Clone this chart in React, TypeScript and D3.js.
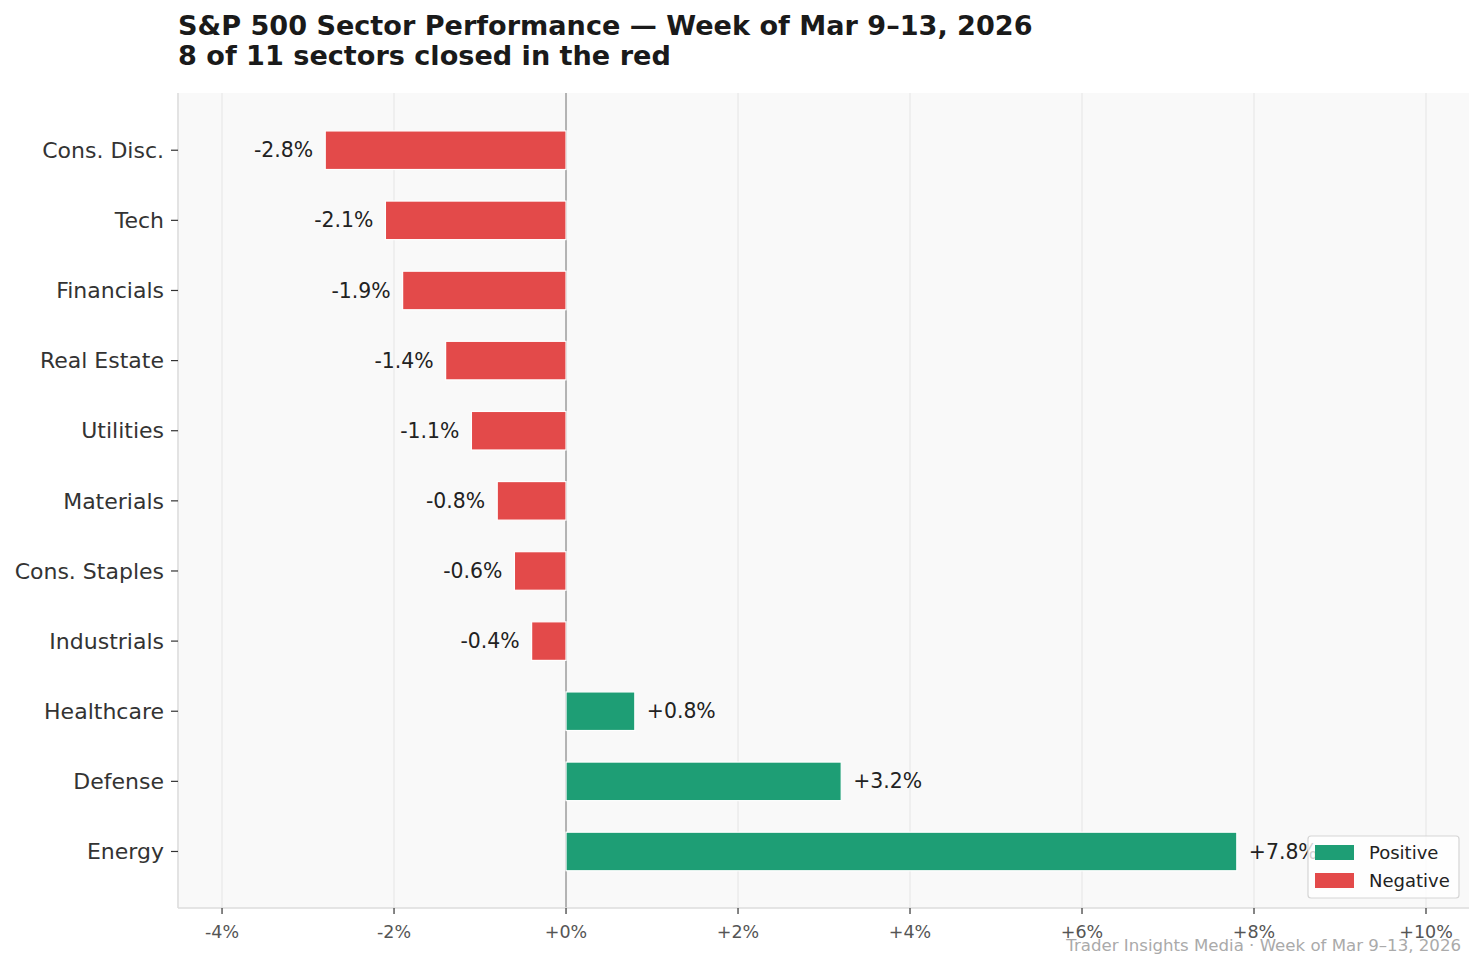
import React from "react";
import * as d3 from "d3";

const sectors = ["Cons. Disc.", "Tech", "Financials", "Real Estate", "Utilities", "Materials", "Cons. Staples", "Industrials", "Healthcare", "Defense", "Energy"];
const changes = [-2.8, -2.1, -1.9, -1.4, -1.1, -0.8, -0.6, -0.4, 0.8, 3.2, 7.8];
const xTicks = [-4, -2, 0, 2, 4, 6, 8, 10];
const legendItems = ["Positive", "Negative"];

const W = 1484;
const H = 969;
const L = 178, R = 1469, T = 93, B = 908;
const GREEN = "#1e9e75";
const RED = "#e34a4a";
const FONT = "DejaVu Sans, sans-serif";

const fmt = (v: number) => (v > 0 ? "+" : v < 0 ? "-" : "+") + Math.abs(v).toFixed(1) + "%";
const fmtTick = (v: number) => (v >= 0 ? "+" : "-") + Math.abs(v) + "%";

export default function App() {
  const x = d3.scaleLinear().domain([-4.512, 10.5]).range([L, R]);
  const y = d3.scaleLinear().domain([-0.816, 10.806]).range([T, B]);
  const step = y(1) - y(0);
  const bh = step * 0.55;

  return (
    <svg width={W} height={H} style={{ position: "absolute", left: 0, top: 0, background: "#fff" }} fontFamily={FONT}>
      <rect x={0} y={0} width={W} height={H} fill="#ffffff" />
      <text x={178} y={35} fontSize={27.1} fontWeight="bold" fill="#1a1a1a">S&amp;P 500 Sector Performance — Week of Mar 9–13, 2026</text>
      <text x={178} y={65} fontSize={27.1} fontWeight="bold" fill="#1a1a1a">8 of 11 sectors closed in the red</text>

      <rect x={L} y={T} width={R - L} height={B - T} fill="#f9f9f9" />
      {xTicks.map((t) => (
        <line key={"g" + t} x1={x(t)} x2={x(t)} y1={T} y2={B} stroke="#ebebeb" strokeWidth={1.4} />
      ))}
      <line x1={x(0)} x2={x(0)} y1={T} y2={B} stroke="#b3b3b3" strokeWidth={2} />

      {changes.map((v, i) => (
        <rect
          key={sectors[i]}
          x={x(Math.min(0, v))}
          y={y(i) - bh / 2}
          width={Math.abs(x(v) - x(0))}
          height={bh}
          fill={v >= 0 ? GREEN : RED}
          stroke="#ffffff"
          strokeWidth={1.2}
        />
      ))}
      {changes.map((v, i) => (
        <text
          key={"l" + sectors[i]}
          x={v >= 0 ? x(v + 0.14) : x(v - 0.14)}
          y={y(i)}
          dy="0.35em"
          textAnchor={v >= 0 ? "start" : "end"}
          fontSize={20.4}
          fill="#222"
        >
          {fmt(v)}
        </text>
      ))}

      <line x1={L} x2={L} y1={T} y2={B} stroke="#dddddd" strokeWidth={1.6} />
      <line x1={L} x2={R} y1={B} y2={B} stroke="#dddddd" strokeWidth={1.6} />

      {sectors.map((s, i) => (
        <g key={"yt" + s}>
          <line x1={L - 7} x2={L} y1={y(i)} y2={y(i)} stroke="#333" strokeWidth={1.2} />
          <text x={L - 14} y={y(i)} dy="0.35em" textAnchor="end" fontSize={22} fill="#333">{s}</text>
        </g>
      ))}
      {xTicks.map((t) => (
        <g key={"xt" + t}>
          <line x1={x(t)} x2={x(t)} y1={B} y2={B + 6} stroke="#333" strokeWidth={1.2} />
          <text x={x(t)} y={938} textAnchor="middle" fontSize={17.5} fill="#555">{fmtTick(t)}</text>
        </g>
      ))}

      <g>
        <rect x={1308} y={836} width={151} height={62} rx={3} fill="#ffffff" fillOpacity={0.8} stroke="#d5d5d5" strokeWidth={1.2} />
        {legendItems.map((name, i) => (
          <g key={name}>
            <rect x={1315} y={845 + i * 28} width={39} height={15} fill={i === 0 ? GREEN : RED} />
            <text x={1369} y={858.5 + i * 28} fontSize={18} fill="#222">{name}</text>
          </g>
        ))}
      </g>

      <text x={1461} y={951} textAnchor="end" fontSize={16.6} fill="#aaaaaa">Trader Insights Media · Week of Mar 9–13, 2026</text>
    </svg>
  );
}
